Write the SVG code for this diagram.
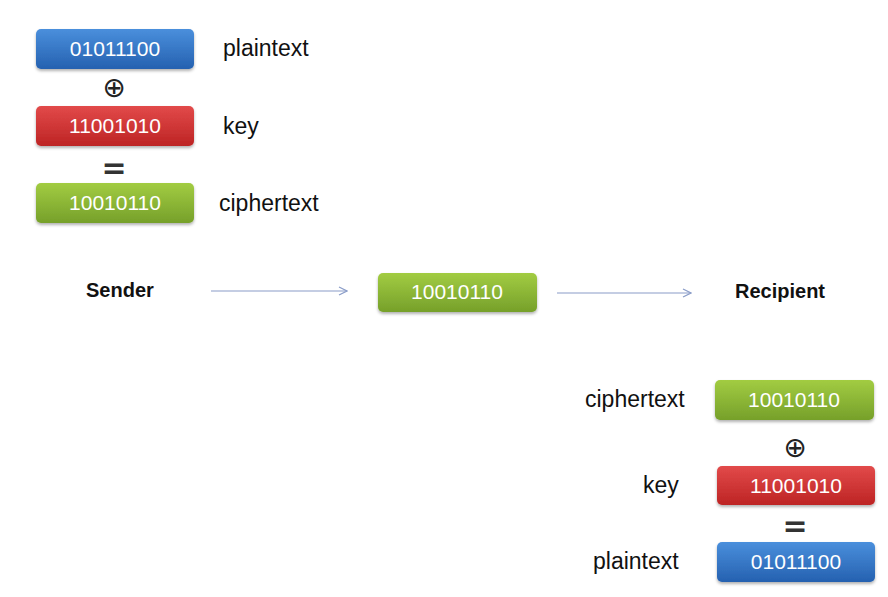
<svg xmlns="http://www.w3.org/2000/svg" width="888" height="597" viewBox="0 0 888 597">
<defs>
<linearGradient id="gBlue" x1="0" y1="0" x2="0" y2="1"><stop offset="0" stop-color="#4a8fdc"/><stop offset="1" stop-color="#2561b0"/></linearGradient>
<linearGradient id="gRed" x1="0" y1="0" x2="0" y2="1"><stop offset="0" stop-color="#e24a4a"/><stop offset="1" stop-color="#bd2424"/></linearGradient>
<linearGradient id="gGreen" x1="0" y1="0" x2="0" y2="1"><stop offset="0" stop-color="#a2cc42"/><stop offset="1" stop-color="#76a02a"/></linearGradient>
<filter id="sh" x="-10%" y="-20%" width="120%" height="150%"><feDropShadow dx="0" dy="2" stdDeviation="1.5" flood-color="#000" flood-opacity="0.3"/></filter>
<marker id="arr" viewBox="0 0 10 10" refX="9" refY="5" markerWidth="10" markerHeight="10" markerUnits="userSpaceOnUse" orient="auto"><path d="M1,1 L9,5 L1,9" fill="none" stroke="#8a9cc8" stroke-width="1.2"/></marker>
</defs>
<style>
.box{filter:url(#sh)}
.bt{font-family:"Liberation Sans",Arial,sans-serif;font-size:21px;fill:#fff;text-anchor:middle}
.lb{font-family:"Liberation Sans",Arial,sans-serif;font-size:23px;fill:#111}
.hd{font-family:"Liberation Sans",Arial,sans-serif;font-size:20px;font-weight:bold;fill:#111}
.op{font-family:"DejaVu Sans",sans-serif;font-size:28px;fill:#222;text-anchor:middle}
.eq{font-family:"DejaVu Sans",sans-serif;font-size:30px;font-weight:bold;fill:#333;text-anchor:middle}
.conn{stroke:#8a9cc8;stroke-width:1.2;fill:none}
</style>
<rect width="888" height="597" fill="#fff"/>

<g id="sender-plaintext"><rect class="box" x="36" y="29" width="158" height="40" rx="5" fill="url(#gBlue)"/><text class="bt" x="115" y="56">01011100</text></g>
<g id="sender-plaintext-label"><text class="lb" x="223" y="56">plaintext</text></g>
<g id="sender-xor"><text class="op" x="114" y="97">⊕</text></g>
<g id="sender-key"><rect class="box" x="36" y="106" width="158" height="40" rx="5" fill="url(#gRed)"/><text class="bt" x="115" y="133">11001010</text></g>
<g id="sender-key-label"><text class="lb" x="223" y="134">key</text></g>
<g id="sender-eq"><text class="eq" x="114" y="178">=</text></g>
<g id="sender-cipher"><rect class="box" x="36" y="183" width="158" height="40" rx="5" fill="url(#gGreen)"/><text class="bt" x="115" y="210">10010110</text></g>
<g id="sender-cipher-label"><text class="lb" x="219" y="211">ciphertext</text></g>

<g id="sender"><text class="hd" x="86" y="297">Sender</text></g>
<g id="transit"><rect class="box" x="378" y="273" width="159" height="39" rx="5" fill="url(#gGreen)"/><text class="bt" x="457" y="299">10010110</text></g>
<g id="recipient"><text class="hd" x="735" y="298">Recipient</text></g>

<g id="connectors">
<line class="conn" x1="211" y1="291" x2="347" y2="291" marker-end="url(#arr)"/>
<line class="conn" x1="557" y1="293" x2="691" y2="293" marker-end="url(#arr)"/>
</g>

<g id="recv-cipher"><rect class="box" x="715" y="380" width="159" height="40" rx="5" fill="url(#gGreen)"/><text class="bt" x="794" y="407">10010110</text></g>
<g id="recv-cipher-label"><text class="lb" x="585" y="407">ciphertext</text></g>
<g id="recv-xor"><text class="op" x="795" y="457">⊕</text></g>
<g id="recv-key"><rect class="box" x="717" y="466" width="158" height="39" rx="5" fill="url(#gRed)"/><text class="bt" x="796" y="493">11001010</text></g>
<g id="recv-key-label"><text class="lb" x="643" y="493">key</text></g>
<g id="recv-eq"><text class="eq" x="795" y="536">=</text></g>
<g id="recv-plain"><rect class="box" x="717" y="542" width="158" height="40" rx="5" fill="url(#gBlue)"/><text class="bt" x="796" y="569">01011100</text></g>
<g id="recv-plain-label"><text class="lb" x="593" y="569">plaintext</text></g>
</svg>
